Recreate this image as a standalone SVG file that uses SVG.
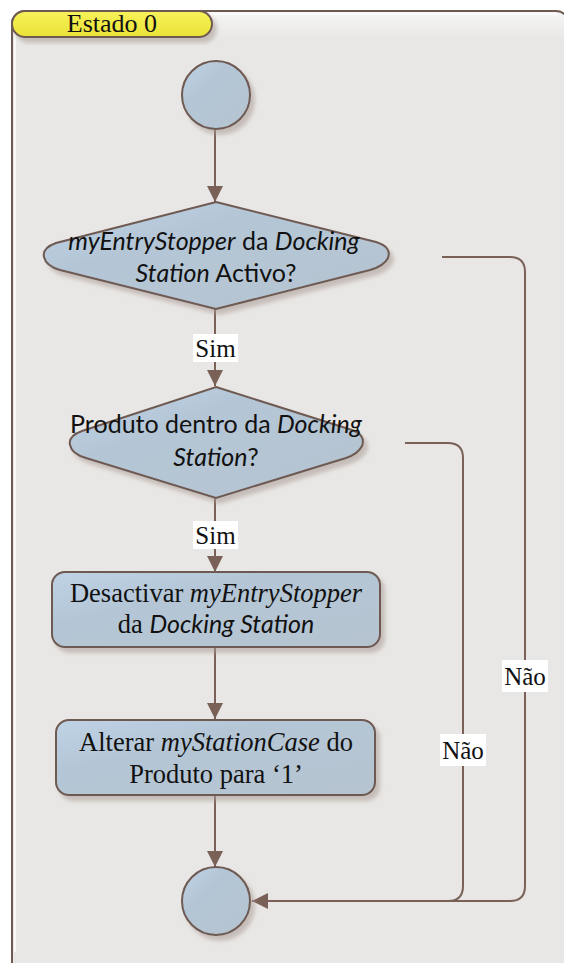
<svg xmlns="http://www.w3.org/2000/svg" width="564" height="963" viewBox="0 0 564 963">
  <defs>
    <linearGradient id="nodeFill" x1="0" y1="0" x2="1" y2="1">
      <stop offset="0" stop-color="#bfd3e6"/>
      <stop offset="0.35" stop-color="#b4c6d6"/>
      <stop offset="1" stop-color="#b6c4d0"/>
    </linearGradient>
    <linearGradient id="pillFill" x1="0" y1="0" x2="0" y2="1">
      <stop offset="0" stop-color="#f6f25a"/>
      <stop offset="1" stop-color="#ebe236"/>
    </linearGradient>
    <linearGradient id="bgFill" x1="0" y1="0" x2="0" y2="1">
      <stop offset="0" stop-color="#f6f6f6"/>
      <stop offset="0.03" stop-color="#e9e7e5"/>
      <stop offset="1" stop-color="#e9e7e5"/>
    </linearGradient>
    <filter id="shadow" x="-20%" y="-20%" width="150%" height="150%">
      <feGaussianBlur in="SourceAlpha" stdDeviation="2"/>
      <feOffset dx="4" dy="5" result="off"/>
      <feFlood flood-color="#a89a94" flood-opacity="0.55"/>
      <feComposite in2="off" operator="in"/>
      <feMerge>
        <feMergeNode/>
        <feMergeNode in="SourceGraphic"/>
      </feMerge>
    </filter>
    <marker id="arrow" viewBox="0 0 16 16" refX="16" refY="8" markerWidth="16" markerHeight="16" markerUnits="userSpaceOnUse" orient="auto">
      <path d="M0,0 L16,8 L0,16 Z" fill="#7a6158"/>
    </marker>
    <style>
      .node { fill: url(#nodeFill); stroke: #6e5a52; stroke-width: 2; filter: url(#shadow); }
      .conn { fill: none; stroke: #7a6158; stroke-width: 2; }
      .sans { font-family: Lato, "Open Sans", sans-serif; font-size: 25px; fill: #111; }
      .serif { font-family: "Liberation Serif", serif; font-size: 26.5px; fill: #111; }
      .it { font-style: italic; }
      .lbl { font-family: "Liberation Serif", serif; font-size: 25px; fill: #111; }
      .lblbg { fill: #ffffff; }
    </style>
  </defs>

  <!-- state container -->
  <g id="container">
    <rect x="12" y="11" width="557" height="965" rx="13" fill="url(#bgFill)" stroke="#6e5a52" stroke-width="2"/>
    <path d="M15,952 L15,26 Q15,14 27,14 L556,14" fill="none" stroke="#ffffff" stroke-opacity="0.7" stroke-width="2"/>
  </g>

  <!-- state title -->
  <g id="title">
    <rect x="12" y="11" width="200" height="26" rx="13" fill="url(#pillFill)" stroke="#6e5a52" stroke-width="2" filter="url(#shadow)"/>
    <text x="112" y="32" text-anchor="middle" class="lbl" style="font-size:26px">Estado 0</text>
  </g>

  <!-- connectors -->
  <g id="connectors">
    <line class="conn" x1="215" y1="129" x2="215" y2="202" marker-end="url(#arrow)"/>
    <line class="conn" x1="215" y1="309" x2="215" y2="386" marker-end="url(#arrow)"/>
    <line class="conn" x1="215" y1="498" x2="215" y2="572" marker-end="url(#arrow)"/>
    <line class="conn" x1="215" y1="647" x2="215" y2="719" marker-end="url(#arrow)"/>
    <line class="conn" x1="215" y1="795" x2="215" y2="867" marker-end="url(#arrow)"/>
    <path class="conn" d="M442,257 L510,257 Q525,257 525,272 L525,886 Q525,901 510,901 L252,901" marker-end="url(#arrow)"/>
    <path class="conn" d="M405,443 L448,443 Q463,443 463,458 L463,886 Q463,901 448,901"/>
  </g>

  <!-- connector labels -->
  <g id="labels">
    <rect class="lblbg" x="193" y="334" width="45" height="28"/>
    <text class="lbl" x="215.5" y="357" text-anchor="middle">Sim</text>
    <rect class="lblbg" x="193" y="521" width="45" height="28"/>
    <text class="lbl" x="215.5" y="544" text-anchor="middle">Sim</text>
    <rect class="lblbg" x="502" y="660" width="46" height="32"/>
    <text class="lbl" x="525" y="685" text-anchor="middle">Não</text>
    <rect class="lblbg" x="440" y="734" width="46" height="32"/>
    <text class="lbl" x="463" y="759" text-anchor="middle">Não</text>
  </g>

  <!-- initial node -->
  <g id="start">
    <circle class="node" cx="216" cy="95" r="34"/>
  </g>

  <!-- decision: stopper active -->
  <g id="decision1">
    <path class="node" d="M216,202 L376,242 Q392,247 388,258 Q384,266 370,270 L216,309 L60,270 Q46,266 44,257 Q42,248 56,243 Z"/>
    <text class="sans" x="214" y="250" text-anchor="middle"><tspan class="it">myEntryStopper</tspan> da <tspan class="it">Docking</tspan></text>
    <text class="sans" x="216" y="282" text-anchor="middle"><tspan class="it">Station</tspan> Activo?</text>
  </g>

  <!-- decision: product inside -->
  <g id="decision2">
    <path class="node" d="M216,387 L352,430 Q366,435 362,446 Q358,454 346,458 L216,498 L86,458 Q72,454 70,445 Q68,436 82,431 Z"/>
    <text class="sans" x="216" y="433" text-anchor="middle">Produto dentro da <tspan class="it">Docking</tspan></text>
    <text class="sans" x="216" y="466" text-anchor="middle"><tspan class="it">Station</tspan>?</text>
  </g>

  <!-- action: deactivate stopper -->
  <g id="action1">
    <rect class="node" x="52" y="572" width="328" height="75" rx="13"/>
    <text class="serif" x="216" y="602" text-anchor="middle">Desactivar <tspan class="it">myEntryStopper</tspan></text>
    <text class="serif" x="216" y="633" text-anchor="middle">da <tspan class="sans it">Docking Station</tspan></text>
  </g>

  <!-- action: set station case -->
  <g id="action2">
    <rect class="node" x="56" y="720" width="319" height="75" rx="13"/>
    <text class="serif" x="216" y="751" text-anchor="middle">Alterar <tspan class="it">myStationCase</tspan> do</text>
    <text class="serif" x="216" y="783" text-anchor="middle">Produto para ‘1’</text>
  </g>

  <!-- final node -->
  <g id="end">
    <circle class="node" cx="216" cy="901" r="34"/>
  </g>
</svg>
